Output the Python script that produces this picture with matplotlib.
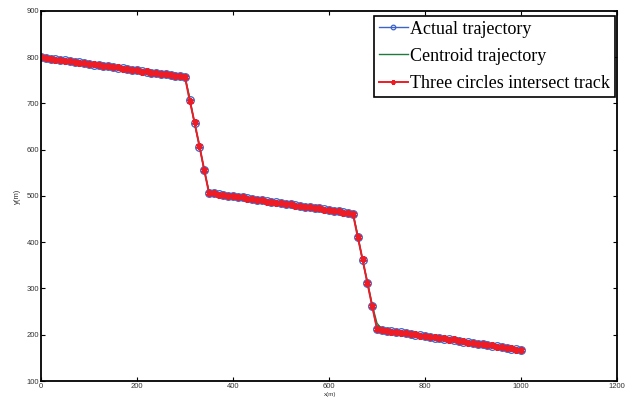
import matplotlib
matplotlib.use("Agg")
import matplotlib.pyplot as plt

# x positions along the route (m)
x_pos = [0, 10, 20, 30, 40, 50, 60, 70, 80, 90, 100, 110, 120, 130, 140, 150, 160, 170, 180, 190,
         200, 210, 220, 230, 240, 250, 260, 270, 280, 290, 300, 310, 320, 330, 340, 350, 360, 370, 380, 390,
         400, 410, 420, 430, 440, 450, 460, 470, 480, 490, 500, 510, 520, 530, 540, 550, 560, 570, 580, 590,
         600, 610, 620, 630, 640, 650, 660, 670, 680, 690, 700, 710, 720, 730, 740, 750, 760, 770, 780, 790,
         800, 810, 820, 830, 840, 850, 860, 870, 880, 890, 900, 910, 920, 930, 940, 950, 960, 970, 980, 990,
         1000]

# Actual trajectory y (m)
actual_y = [800, 799, 797, 796, 794, 793, 792, 790, 789, 787, 786, 784, 783, 782, 780, 779, 777, 776, 774, 773,
            772, 770, 769, 767, 766, 764, 763, 762, 760, 759, 757,
            707, 657, 607, 557, 507,
            506, 504, 503, 501, 500, 498, 497, 495, 494, 492, 491, 489, 488, 486, 485, 483, 482, 480, 479, 477,
            476, 474, 473, 471, 470, 468, 467, 465, 464, 462,
            412, 362, 312, 262, 212,
            211, 209, 208, 206, 205, 203, 202, 200, 199, 197, 196, 194, 193, 191, 190, 188, 187, 185, 184, 182,
            181, 179, 178, 176, 175, 173, 172, 170, 169, 167]

# Centroid localisation estimate y (m)
centroid_y = [800, 798, 796, 795, 793, 793, 790, 789, 788, 786, 786, 783, 782, 782, 779, 779, 776, 776, 773, 773,
              771, 769, 769, 766, 766, 763, 763, 761, 759, 758, 757,
              712, 655, 611, 555, 510,
              505, 504, 502, 501, 499, 498, 496, 495, 493, 492, 490, 489, 487, 486, 484, 483, 481, 480, 478, 477,
              475, 474, 472, 471, 469, 468, 466, 465, 463, 463,
              415, 360, 315, 265, 225,
              212, 208, 208, 205, 205, 202, 200, 199, 198, 196, 196, 193, 193, 190, 190, 187, 187, 184, 184, 181,
              183, 178, 178, 175, 175, 172, 172, 169, 169, 166]

# Three-circle intersection estimate y (m)
trilat_y = [801, 799, 797, 795, 795, 792, 791, 790, 788, 788, 785, 785, 783, 781, 781, 778, 778, 775, 775, 772,
            772, 769, 770, 766, 767, 763, 763, 761, 759, 760, 757,
            705, 659, 608, 557, 506,
            506, 503, 503, 500, 500, 497, 497, 494, 494, 491, 491, 488, 488, 485, 485, 482, 483, 479, 479, 476,
            476, 473, 474, 470, 470, 467, 467, 464, 464, 461,
            411, 363, 312, 262, 213,
            210, 209, 207, 207, 204, 204, 201, 201, 198, 198, 195, 195, 192, 192, 189, 191, 186, 186, 183, 183,
            180, 180, 177, 178, 174, 174, 171, 171, 168, 168]

x_ticks = [0, 200, 400, 600, 800, 1000, 1200]
y_ticks = [100, 200, 300, 400, 500, 600, 700, 800, 900]

fig = plt.figure(figsize=(6.38, 3.97), dpi=100)
ax = fig.add_axes([0.0643, 0.0403, 0.9027, 0.932])

ax.plot(x_pos, actual_y, color="#3d62c8", lw=1.0, marker="o", ms=5.5,
        mfc="none", mec="#3d62c8", mew=0.9, label="Actual trajectory")
ax.plot(x_pos, centroid_y, color="#1e7b3c", lw=1.0, label="Centroid trajectory")
ax.plot(x_pos, trilat_y, color="#ee1c25", lw=1.4, marker=(6, 2, 0), ms=5.0,
        mfc="#ee1c25", mec="#ee1c25", mew=1.5, label="Three circles intersect track")

ax.set_xlim(0, 1200)
ax.set_ylim(100, 900)
ax.set_xticks(x_ticks)
ax.set_yticks(y_ticks)
ax.tick_params(direction="in", length=3, width=0.8, top=True, right=True,
               labelsize=5.5, labelcolor="#333333", pad=1.5)
for lab in ax.get_xticklabels() + ax.get_yticklabels():
    lab.set_family("Liberation Sans")
for sp in ax.spines.values():
    sp.set_linewidth(1.3)
    sp.set_color("black")

fig.text(0.028, 0.506, "y(m)", rotation=90, ha="center", va="center",
         fontsize=5.5, color="#333333", family="Liberation Sans")
fig.text(0.517, 0.0, "x(m)", ha="center", va="bottom",
         fontsize=4.5, color="#333333", family="Liberation Sans")

leg = ax.legend(loc="upper right", bbox_to_anchor=(615 / 638, 1 - 16 / 397),
                bbox_transform=fig.transFigure, prop={"family": "Liberation Serif", "size": 13},
                frameon=True, fancybox=False, framealpha=1, edgecolor="black",
                handlelength=1.6, handletextpad=0.15, borderpad=0.25, labelspacing=0.57,
                borderaxespad=0, markerscale=0.6)
leg.get_frame().set_linewidth(1.2)

fig.savefig("out.png", dpi=100)
